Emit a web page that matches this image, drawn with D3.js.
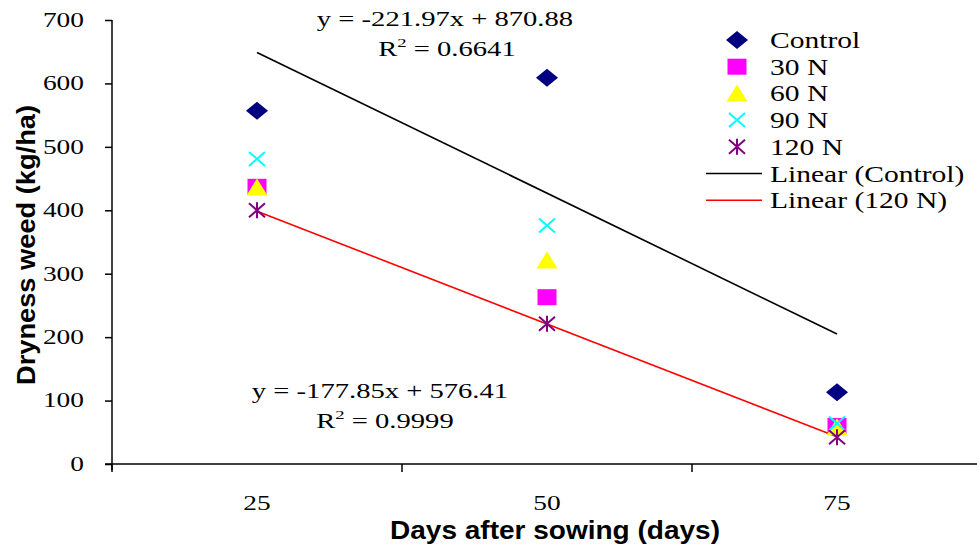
<!DOCTYPE html>
<html><head><meta charset="utf-8">
<script src="https://cdn.jsdelivr.net/npm/d3@7"></script>
<style>body{margin:0;background:#fff}svg{display:block}</style>
</head><body>
<svg id="c" width="977" height="546"></svg>
<script>
const days = [25, 50, 75];
const yTicks = [0, 100, 200, 300, 400, 500, 600, 700];
const seriesNames = ["Control", "30 N", "60 N", "90 N", "120 N"];
const control = [557, 609, 113];
const n30 = [437, 263, 60];
const n60 = [436, 321, 58];
const n90 = [481, 376, 64];
const n120 = [400, 221, 42];
const trendControl = [-221.97, 870.88];
const trend120 = [-177.85, 576.41];
const eqControl = ["y = -221.97x + 870.88", "0.6641"];
const eq120 = ["y = -177.85x + 576.41", "0.9999"];

const svg = d3.select("#c");
const x = d3.scaleBand().domain(days).range([112, 982]);
const y = d3.scaleLinear().domain([0, 700]).range([464, 20]);
const serif = "'Liberation Serif','Times New Roman',serif";
const sans = "'Liberation Sans',Arial,sans-serif";

function stretch(sel, k) {
  sel.each(function () {
    const L = this.getComputedTextLength();
    d3.select(this).attr("textLength", L * k).attr("lengthAdjust", "spacingAndGlyphs");
  });
}

// y axis
const ya = svg.append("g").attr("transform", "translate(112,0)")
  .call(d3.axisLeft(y).tickValues(yTicks).tickSize(7).tickPadding(21));
ya.select(".domain").attr("d", "M0,20V470").attr("stroke", "#000").attr("stroke-width", 1.5);
ya.selectAll(".tick line").attr("stroke-width", 1.5);
ya.selectAll("text").attr("font-family", serif).attr("font-size", 20).attr("fill", "#000");
stretch(ya.selectAll("text"), 1.37);

// x axis
const xa = svg.append("g").attr("transform", "translate(0,464)")
  .call(d3.axisBottom(x).tickSize(0).tickPadding(32));
xa.select(".domain").attr("d", "M105,0H982").attr("stroke", "#000").attr("stroke-width", 1.5);
xa.selectAll("text").attr("font-family", serif).attr("font-size", 20).attr("fill", "#000");
stretch(xa.selectAll("text"), 1.37);
svg.append("g").selectAll("line").data(days).join("line")
  .attr("x1", d => x(d)).attr("x2", d => x(d)).attr("y1", 464).attr("y2", 472)
  .attr("stroke", "#000").attr("stroke-width", 1.5);

// axis titles
svg.append("text").attr("transform", "translate(35,245) rotate(-90)")
  .attr("text-anchor", "middle").attr("font-family", sans).attr("font-weight", "bold")
  .attr("font-size", 25).attr("textLength", 280).attr("lengthAdjust", "spacingAndGlyphs")
  .text("Dryness weed (kg/ha)");
svg.append("text").attr("x", 555).attr("y", 539).attr("text-anchor", "middle")
  .attr("font-family", sans).attr("font-weight", "bold").attr("font-size", 25)
  .attr("textLength", 330).attr("lengthAdjust", "spacingAndGlyphs")
  .text("Days after sowing (days)");

const cx = d => x(d) + x.bandwidth() / 2;

// trend lines
function trend(p, color) {
  svg.append("line")
    .attr("x1", cx(days[0])).attr("y1", y(p[0] * 1 + p[1]))
    .attr("x2", cx(days[2])).attr("y2", y(p[0] * 3 + p[1]))
    .attr("stroke", color).attr("stroke-width", 1.6);
}
trend(trendControl, "#000");
trend(trend120, "#ff0000");

// markers
const data = [control, n30, n60, n90, n120];
function drawMarker(g, name, px, py) {
  if (name === "Control") {
    g.append("path").attr("d", `M${px-11},${py}L${px},${py-9}L${px+11},${py}L${px},${py+9}Z`).attr("fill", "#000080");
  } else if (name === "30 N") {
    g.append("path").attr("d", `M${px-9.5},${py-8}H${px+9.5}V${py+8}H${px-9.5}Z`).attr("fill", "#ff00ff");
  } else if (name === "60 N") {
    g.append("path").attr("d", `M${px},${py-9}L${px+10.5},${py+8}H${px-10.5}Z`).attr("fill", "#ffff00");
  } else if (name === "90 N") {
    const sx = 8, sy = 7;
    g.append("path").attr("d", `M${px-sx},${py-sy}L${px+sx},${py+sy}M${px-sx},${py+sy}L${px+sx},${py-sy}`)
      .attr("stroke", "#00ffff").attr("stroke-width", 2);
  } else {
    const sx = 8, sy = 7;
    g.append("path").attr("d", `M${px-sx},${py-sy}L${px+sx},${py+sy}M${px-sx},${py+sy}L${px+sx},${py-sy}M${px},${py-sy-1}L${px},${py+sy+1}`)
      .attr("stroke", "#800080").attr("stroke-width", 2);
  }
}
const mg = svg.append("g");
seriesNames.forEach((n, i) => {
  data[i].forEach((v, j) => drawMarker(mg, n, cx(days[j]), y(v)));
});

// equations
function eq(lines, px, py, px2) {
  const t1 = svg.append("text").attr("x", px).attr("y", py).attr("text-anchor", "middle")
    .attr("font-family", serif).attr("font-size", 20).text(lines[0]);
  stretch(t1, 1.43);
  const t = svg.append("text").attr("x", px2).attr("y", py + 30).attr("text-anchor", "middle")
    .attr("font-family", serif).attr("font-size", 20);
  t.append("tspan").text("R");
  t.append("tspan").attr("dy", -9).attr("font-size", 13).text("2");
  t.append("tspan").attr("dy", 9).text(" = " + lines[1]);
  t.attr("textLength", t.node().getComputedTextLength() * 1.43).attr("lengthAdjust", "spacingAndGlyphs");
}
eq(eqControl, 445, 26, 447);
eq(eq120, 380, 398, 385);

// legend
const lg = svg.append("g");
const rows = seriesNames.concat(["Linear (Control)", "Linear (120 N)"]);
rows.forEach((n, i) => {
  const ry = 40 + i * 26.7;
  if (i < 5) drawMarker(lg, n, 737, ry);
  else lg.append("line").attr("x1", 706).attr("x2", 762).attr("y1", ry).attr("y2", ry)
    .attr("stroke", i === 5 ? "#000" : "#ff0000").attr("stroke-width", 1.6);
  const t = lg.append("text").attr("x", 770).attr("y", ry + 8).attr("font-family", serif)
    .attr("font-size", 24).text(n);
  stretch(t, 1.23);
});
</script>
</body></html>
